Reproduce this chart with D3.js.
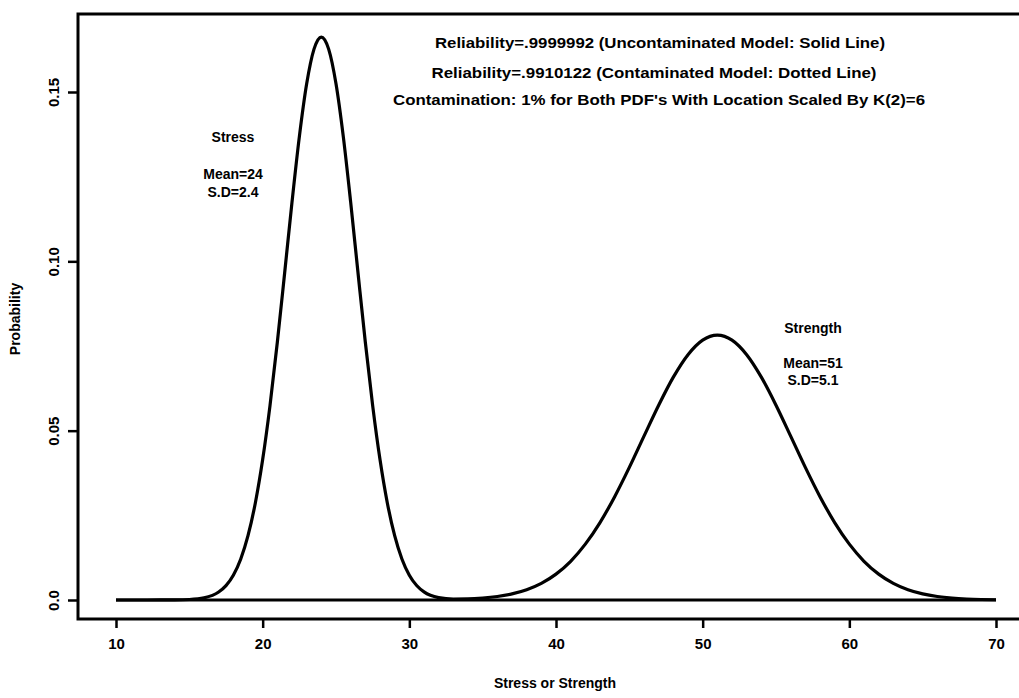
<!DOCTYPE html>
<html>
<head>
<meta charset="utf-8">
<script src="https://cdn.jsdelivr.net/npm/d3@7"></script>
<style>
  body { margin: 0; background: #fff; }
  svg text { font-family: "Liberation Sans", Arial, Helvetica, sans-serif; font-weight: bold; fill: #000; }
</style>
</head>
<body>
<svg id="chart"></svg>
<script>
// stress + strength density
const xVals = [10, 11, 12, 13, 14, 15, 16, 17, 17.5, 18, 18.5, 19, 19.5, 20, 20.5, 21, 21.5, 22, 22.5, 23, 23.5,
  24, 24.5, 25, 25.5, 26, 26.5, 27, 27.5, 28, 28.5, 29, 29.5, 30, 30.5, 31, 32, 33, 34, 35, 36, 37, 38, 39, 40,
  41, 42, 43, 44, 45, 46, 47, 48, 49, 50, 51, 52, 53, 54, 55, 56, 57, 58, 59, 60, 61, 62, 63, 64, 65, 66, 67, 68, 69, 70];
const probVals = [0, 0, 0, 0.00001, 0.00003, 0.00015, 0.00064, 0.00236, 0.00425, 0.0073, 0.01204, 0.01898, 0.02866, 0.04146, 0.0574, 0.0761, 0.09663, 0.11746, 0.13674, 0.15242, 0.16266,
  0.16623, 0.16266, 0.15242, 0.13674, 0.11746, 0.09663, 0.0761, 0.0574, 0.04146, 0.02866, 0.01898, 0.01204, 0.00732, 0.00427, 0.00239, 0.00072, 0.0003, 0.00033, 0.00057, 0.00104, 0.00181, 0.00304, 0.00491, 0.00764,
  0.01144, 0.01649, 0.02287, 0.0305, 0.03915, 0.04838, 0.05751, 0.0658, 0.07244, 0.07674, 0.07823, 0.07674, 0.07244, 0.0658, 0.05751, 0.04838, 0.03915, 0.0305, 0.02287, 0.01649, 0.01144, 0.00764, 0.00491, 0.00304, 0.00181, 0.00104, 0.00057, 0.0003, 0.00015, 0.00008];
const xTicks = [10, 20, 30, 40, 50, 60, 70];
const yTicks = [0, 0.05, 0.10, 0.15];
const yTickLabels = ["0.0", "0.05", "0.10", "0.15"];
const notes = [
  "Reliability=.9999992 (Uncontaminated Model: Solid Line)",
  "Reliability=.9910122 (Contaminated Model: Dotted Line)",
  "Contamination: 1% for Both PDF's With Location Scaled By K(2)=6"
];
const stressNote = ["Stress", "Mean=24", "S.D=2.4"];
const strengthNote = ["Strength", "Mean=51", "S.D=5.1"];

const width = 1019, height = 698;
const frame = {left: 78, top: 14, bottom: 619};

const svg = d3.select("#chart").attr("width", width).attr("height", height);

const x = d3.scaleLinear().domain([10, 70]).range([116, 996]);
const y = d3.scaleLinear().domain([0, 0.15]).range([600, 92]);

// plot frame (right side runs off the page)
svg.append("path")
  .attr("d", `M${width + 5},${frame.top}H${frame.left}V${frame.bottom}H${width + 5}`)
  .attr("fill", "none").attr("stroke", "#000").attr("stroke-width", 3);

const xAxis = svg.append("g")
  .attr("transform", `translate(0,${frame.bottom})`)
  .call(d3.axisBottom(x).tickValues(xTicks).tickSize(9).tickPadding(10).tickFormat(d3.format("d")));
xAxis.select(".domain").remove();
xAxis.selectAll("line").attr("stroke-width", 2.5);
xAxis.selectAll("text").style("font-size", "15px");

const yAxis = svg.append("g")
  .attr("transform", `translate(${frame.left},0)`)
  .call(d3.axisLeft(y).tickValues(yTicks).tickSize(10).tickFormat((d, i) => yTickLabels[i]));
yAxis.select(".domain").remove();
yAxis.selectAll("line").attr("stroke-width", 2.5);
yAxis.selectAll("text")
  .attr("x", null).attr("dy", null)
  .attr("transform", "translate(-25,0) rotate(-90)")
  .attr("text-anchor", "middle")
  .attr("dominant-baseline", "central")
  .style("font-size", "15px");

// zero line
svg.append("line")
  .attr("x1", x(10)).attr("x2", x(70))
  .attr("y1", y(0)).attr("y2", y(0))
  .attr("stroke", "#000").attr("stroke-width", 3);

const line = d3.line()
  .x((d, i) => x(xVals[i]))
  .y(d => y(d))
  .curve(d3.curveMonotoneX);

svg.append("path")
  .datum(probVals)
  .attr("d", line)
  .attr("fill", "none")
  .attr("stroke", "#000")
  .attr("stroke-width", 3.2);

// axis titles
svg.append("text")
  .attr("x", 555).attr("y", 688)
  .attr("text-anchor", "middle")
  .style("font-size", "14px")
  .text("Stress or Strength");

svg.append("text")
  .attr("transform", "translate(20,319) rotate(-90)")
  .attr("text-anchor", "middle")
  .style("font-size", "14px")
  .text("Probability");

// notes at top
const noteY = [48, 78, 105];
const noteW = [450, 445, 532];
const noteX = [660, 654, 659];
notes.forEach((t, i) => {
  svg.append("text")
    .attr("x", noteX[i]).attr("y", noteY[i])
    .attr("text-anchor", "middle")
    .attr("textLength", noteW[i])
    .attr("lengthAdjust", "spacingAndGlyphs")
    .style("font-size", "15px")
    .text(t);
});

stressNote.forEach((t, i) => {
  svg.append("text")
    .attr("x", 233).attr("y", 142 + [0, 37, 55][i])
    .attr("text-anchor", "middle")
    .style("font-size", "14px")
    .text(t);
});
strengthNote.forEach((t, i) => {
  svg.append("text")
    .attr("x", 813).attr("y", 333 + [0, 35, 52][i])
    .attr("text-anchor", "middle")
    .style("font-size", "14px")
    .text(t);
});
</script>
</body>
</html>
